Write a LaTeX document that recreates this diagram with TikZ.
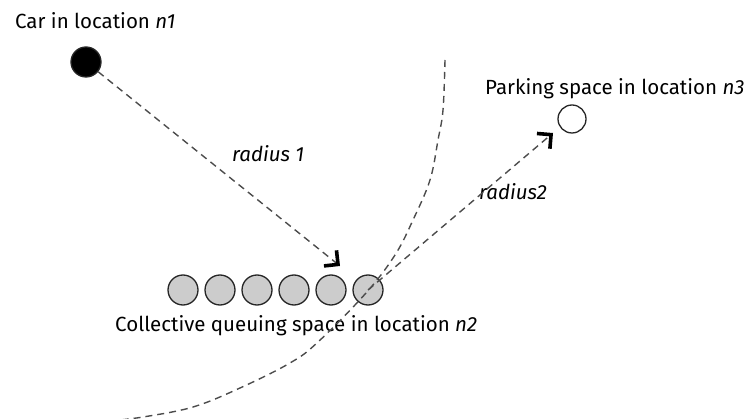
\documentclass[tikz,border=0pt]{standalone}
\usepackage{fontspec}
\setmainfont{Fira Sans}
\usetikzlibrary{arrows.meta}

\begin{document}
\begin{tikzpicture}[x=1pt,y=-1pt,
  spot/.style={circle,draw=black!85,line width=1.3pt,minimum size=30pt,inner sep=0pt},
  queuespot/.style={spot,fill=black!20},
  link/.style={dash pattern=on 7pt off 5pt,draw=black!70,line width=1.4pt},
  barbend/.style={-{Straight Barb[length=10pt,width=20pt,line width=3.6pt,color=black]}},
  lbl/.style={font=\fontsize{20.5}{23}\selectfont,inner sep=0pt,anchor=base west}]

\useasboundingbox (0,0) rectangle (747,419);

% locations
\node[spot,fill=black] (n1) at (86,62) {};
\node[spot,fill=white,minimum size=28pt] (n3) at (572,119) {};
\foreach \i/\x in {1/183,2/220,3/257,4/294,5/331,6/368}
  \node[queuespot] (q\i) at (\x,290) {};

% labels
\node[lbl] (t1) at (15,29) {Car in location \textit{n1}};
\node[lbl] (t2) at (115,332) {Collective queuing space in location \textit{n2}};
\node[lbl] (t3) at (485,95) {Parking space in location \textit{n3}};
\node[lbl] (r1) at (232,162) {\textit{radius 1}};
\node[lbl] (r2) at (479,200) {\textit{radius2}};

% boundary curve
\draw[link] plot[smooth,tension=0.6] coordinates {
  (445,60) (443,110) (438,140) (430,180) (413,220) (395,255) (366,293)
  (318,342) (290,363) (240,388) (193,407) (143,417) (110,421)};

% radii
\coordinate (a1) at (340,266);
\coordinate (a2) at (553,133);
\draw[link,barbend] (n1) -- (a1);
\draw[link,barbend] (q6.center) -- (a2);
\end{tikzpicture}
\end{document}
